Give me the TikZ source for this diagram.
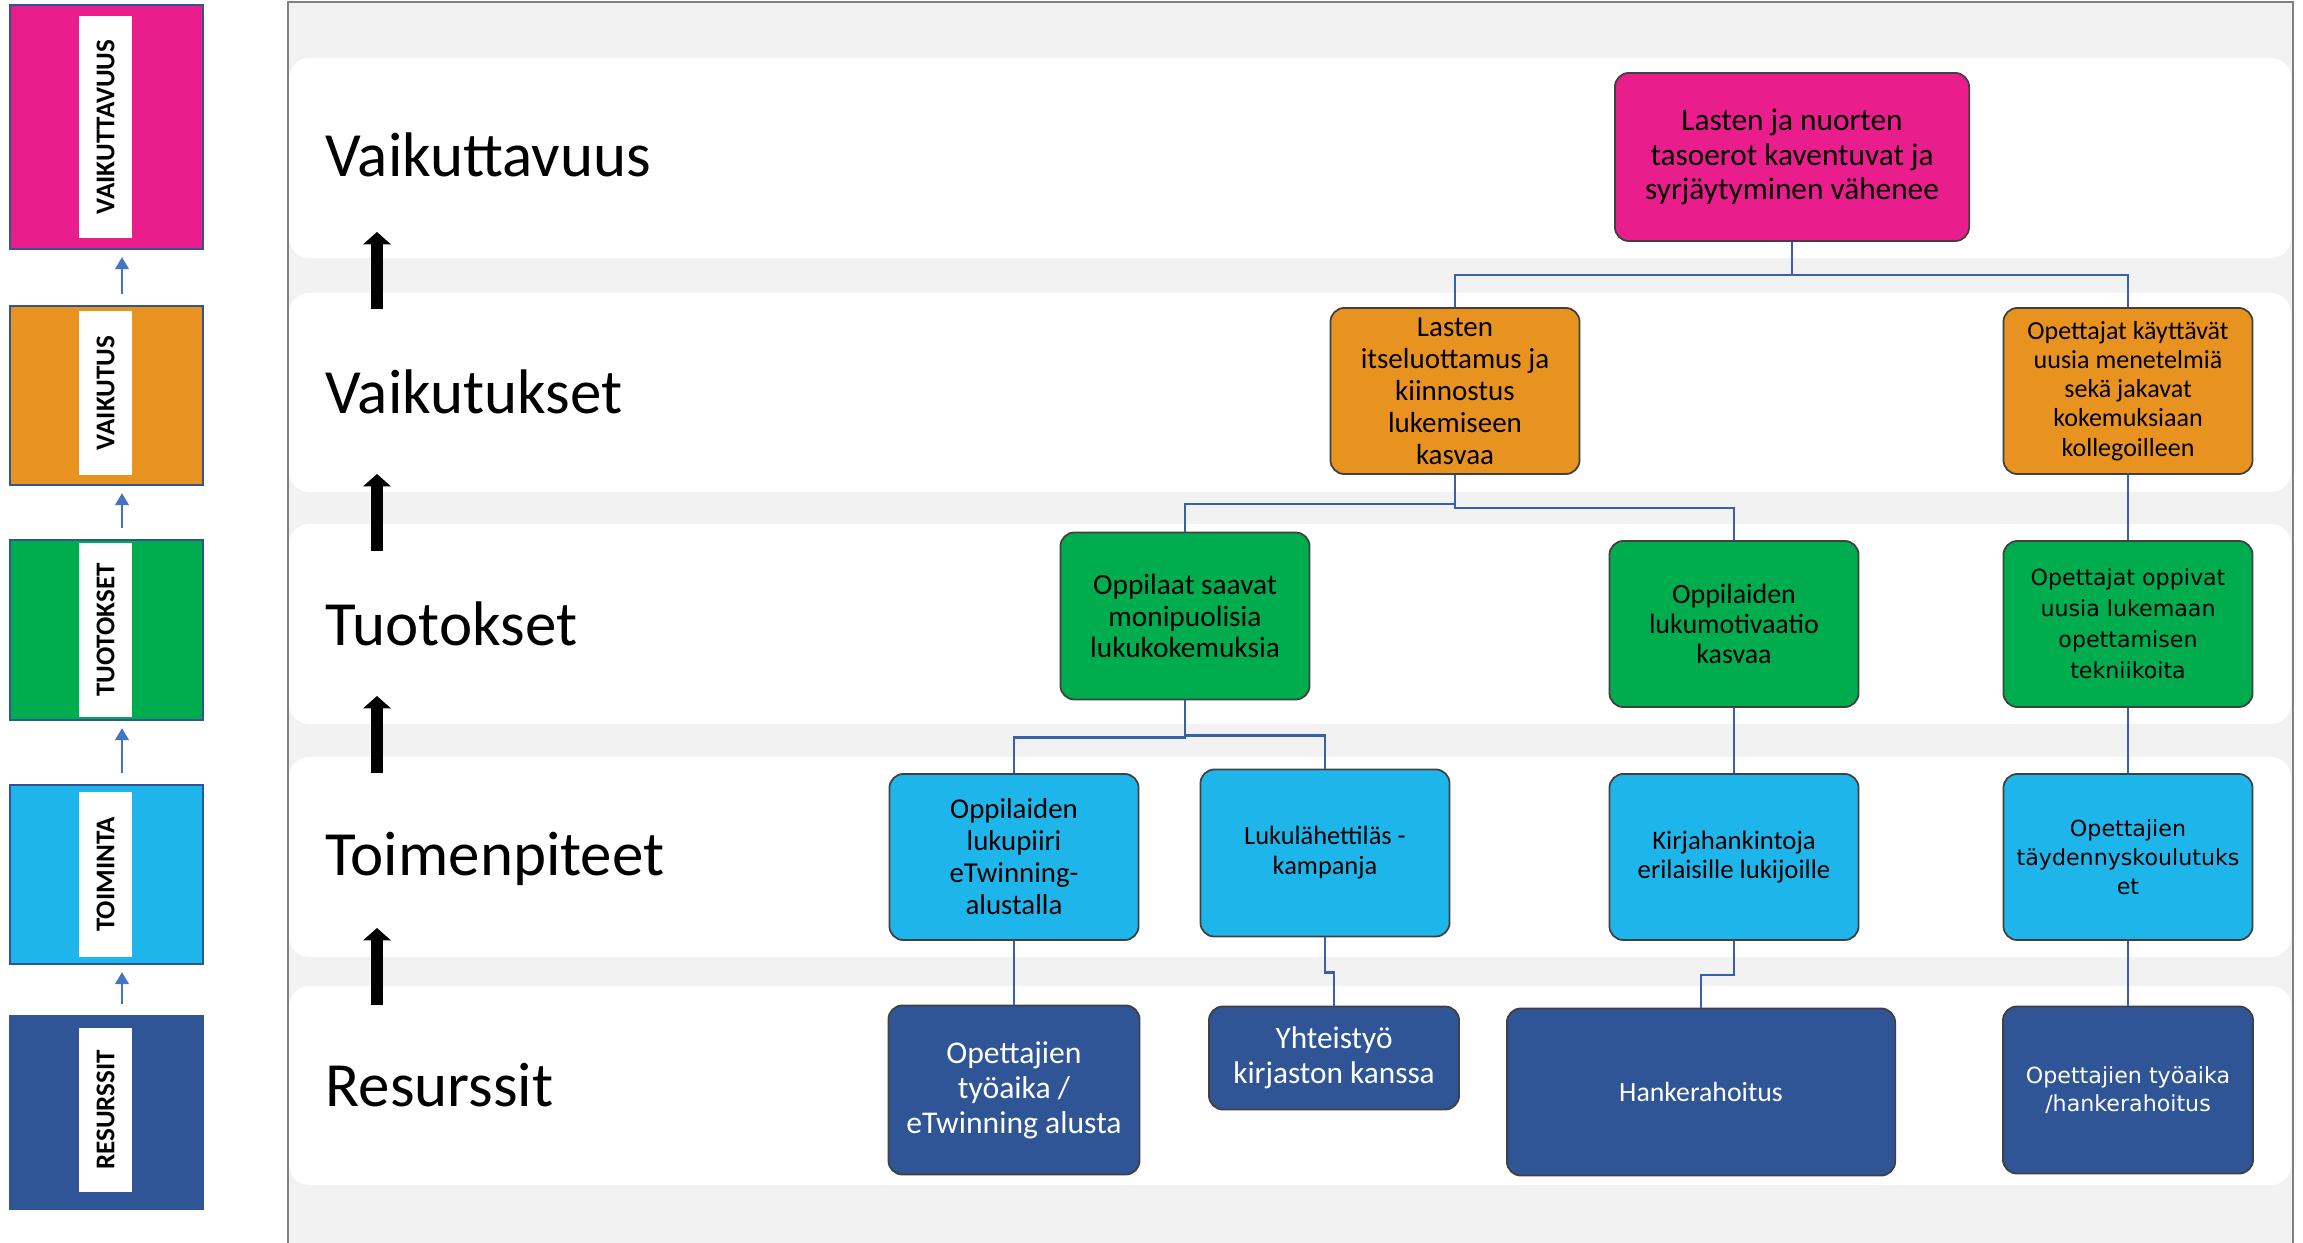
\documentclass[tikz,border=0pt]{standalone}
\usepackage{fontspec}
\setmainfont{Carlito}
\newfontfamily\widefont{DejaVu Sans}
\usetikzlibrary{positioning, calc, arrows.meta}

\definecolor{colImpact}{RGB}{233,30,140}
\definecolor{colEffect}{RGB}{232,146,32}
\definecolor{colOutput}{RGB}{0,173,78}
\definecolor{colAction}{RGB}{30,182,234}
\definecolor{colResource}{RGB}{47,85,151}
\definecolor{colPanel}{RGB}{242,242,242}
\definecolor{linkblue}{RGB}{55,96,176}
\definecolor{sideblue}{RGB}{68,114,196}

\newcommand{\fsz}[2]{\fontsize{#1}{#2}\selectfont}

\begin{document}
\begin{tikzpicture}[x=0.01cm, y=-0.01cm]
\tikzset{box/.style={
    rectangle, rounded corners=0.14cm, draw=black!75, line width=0.5pt,
    minimum width=2.49cm, minimum height=1.66cm, align=center, inner sep=2pt},
    band/.style={fill=white, rounded corners=0.2cm},
    rowlabel/.style={anchor=base west, inner sep=0pt, font=\fsz{17.9}{20}},
    side/.style={rectangle, draw=colResource, line width=0.6pt, minimum width=1.93cm},
    tag/.style={rectangle, fill=white, minimum height=0.53cm, inner sep=0pt, rotate=90,
    font=\bfseries\fsz{7.7}{8}},
    link/.style={draw=linkblue, line width=0.75pt},
    uparrow/.style={line width=3.5pt, -{Triangle[width=7.7pt,length=3.5pt]}},
    sidearrow/.style={draw=sideblue, line width=0.7pt, shorten <=0.11cm, shorten >=0.07cm,
    -{Triangle[width=3.8pt,length=3.4pt]}}
}

    \useasboundingbox (0,0) rectangle (2303,1243);
    \clip (0,0) rectangle (2303,1243);

    % paneeli ja kaistat
    \fill[colPanel] (288,2) rectangle (2293,1260);
    \draw[black!50, line width=0.8pt] (288,1260) -- (288,2) -- (2293,2) -- (2293,1260);
    \foreach \top/\bot in {58/258, 293/492, 524/724, 757/957, 986/1185}
        \fill[band] (289,\top) rectangle (2291,\bot);

    % sivupalkki
    \node[side, fill=colImpact, minimum height=2.44cm] (sImp) at (106.5,127) {};
    \node[side, fill=colEffect, minimum height=1.79cm] (sEff) at (106.5,395.5) {};
    \node[side, fill=colOutput, minimum height=1.80cm] (sOut) at (106.5,630) {};
    \node[side, fill=colAction, minimum height=1.79cm] (sAct) at (106.5,874.5) {};
    \node[side, fill=colResource, minimum height=1.93cm] (sRes) at (106.5,1112.5) {};

    \node[tag, minimum width=2.22cm] (tImp) at (105.5,127) {VAIKUTTAVUUS};
    \node[tag, minimum width=1.64cm] (tEff) at (105.5,393) {VAIKUTUS};
    \node[tag, minimum width=1.74cm] (tOut) at (105.5,630) {TUOTOKSET};
    \node[tag, minimum width=1.65cm] (tAct) at (105.5,874.5) {TOIMINTA};
    \node[tag, minimum width=1.64cm] (tRes) at (105.5,1110) {RESURSSIT};

    \foreach \lo/\hi in {sEff/sImp, sOut/sEff, sAct/sOut, sRes/sAct}
        \draw[sidearrow] ($(\lo.north)+(15.5,0)$) -- ($(\hi.south)+(15.5,0)$);

    % rivien otsikot
    \node[rowlabel] (rImp) at (325,177) {Vaikuttavuus};
    \node[rowlabel] (rEff) at (325,413) {Vaikutukset};
    \node[rowlabel] (rOut) at (325,645) {Tuotokset};
    \node[rowlabel] (rAct) at (325,875) {Toimenpiteet};
    \node[rowlabel] (rRes) at (325,1106) {Resurssit};

    \foreach \lo/\hi [count=\i] in {309/232, 551/474, 773/696, 1005/928}{
        \coordinate (up\i a) at (377,\lo);
        \coordinate (up\i b) at (377,\hi);
        \draw[uparrow] (up\i a) -- (up\i b);
    }

    % vaikuttavuus
    \node[box, fill=colImpact, minimum width=3.54cm, minimum height=1.68cm, font=\fsz{8.9}{9.9}]
        (tasoerot) at (1792,157) {Lasten ja nuorten\\tasoerot kaventuvat ja\\syrjäytyminen vähenee};

    % vaikutukset
    \node[box, fill=colEffect, font=\fsz{8.25}{9.1}] (itseluottamus) at (1455,391)
        {Lasten\\itseluottamus ja\\kiinnostus\\lukemiseen\\kasvaa};
    \node[box, fill=colEffect, font=\fsz{7.4}{8.3}] (menetelmat) at (2128,391)
        {Opettajat käyttävät\\uusia menetelmiä\\sekä jakavat\\kokemuksiaan\\kollegoilleen};

    % tuotokset
    \node[box, fill=colOutput, minimum height=1.67cm, font=\fsz{8.35}{9.0}] (lukukokemus) at (1185,616)
        {Oppilaat saavat\\monipuolisia\\lukukokemuksia};
    \node[box, fill=colOutput, font=\fsz{7.95}{8.5}] (motivaatio) at (1734,624)
        {Oppilaiden\\lukumotivaatio\\kasvaa};
    \node[box, fill=colOutput, font=\widefont\fsz{6.3}{8.8}] (tekniikat) at (2128,624)
        {Opettajat oppivat\\uusia lukemaan\\opettamisen\\tekniikoita};

    % toimenpiteet
    \node[box, fill=colAction, font=\fsz{8.2}{9.1}] (lukupiiri) at (1014,857)
        {Oppilaiden\\lukupiiri\\eTwinning-\\alustalla};
    \node[box, fill=colAction, minimum height=1.67cm, font=\fsz{7.5}{8.5}] (kampanja) at (1325,853)
        {Lukulähettiläs -\\kampanja};
    \node[box, fill=colAction, font=\fsz{7.6}{8.5}] (kirjat) at (1734,857)
        {Kirjahankintoja\\erilaisille lukijoille};
    \node[box, fill=colAction, font=\widefont\fsz{6.3}{8.2}] (koulutus) at (2128,857)
        {Opettajien\\täydennyskoulutuks\\et};

    % resurssit
    \node[box, fill=colResource, text=white, minimum width=2.51cm, minimum height=1.69cm,
        font=\fsz{9.0}{10}] (tyoaika) at (1014,1090) {Opettajien\\työaika /\\eTwinning alusta};
    \node[box, fill=colResource, text=white, minimum width=2.50cm, minimum height=1.03cm,
        font=\fsz{8.9}{10}] (kirjasto) at (1334,1058) {Yhteistyö\\kirjaston kanssa};
    \node[box, fill=colResource, text=white, minimum width=3.88cm, minimum height=1.67cm,
        font=\fsz{7.9}{9}] (hanke) at (1701,1092) {Hankerahoitus};
    \node[box, fill=colResource, text=white, minimum width=2.50cm, minimum height=1.67cm,
        font=\widefont\fsz{6.3}{8.1}] (tyohanke) at (2128,1090) {Opettajien työaika\\/hankerahoitus};

    % yhteydet
    \draw[link] (tasoerot.south) -- ++(0,33) -| (itseluottamus.north);
    \draw[link] (tasoerot.south) -- ++(0,33) -| (menetelmat.north);
    \draw[link] (itseluottamus.south) -- ++(0,29) -| (lukukokemus.north);
    \draw[link] (itseluottamus.south) -- ++(0,33) -| (motivaatio.north);
    \draw[link] (menetelmat.south) -- (tekniikat.north);
    \draw[link] (lukukokemus.south) -- ++(0,37) -| (lukupiiri.north);
    \draw[link] (lukukokemus.south) -- ++(0,35) -| (kampanja.north);
    \draw[link] (motivaatio.south) -- (kirjat.north);
    \draw[link] (tekniikat.south) -- (koulutus.north);
    \draw[link] (lukupiiri.south) -- (tyoaika.north);
    \draw[link] (kampanja.south) -- ++(0,35) -| (kirjasto.north);
    \draw[link] (kirjat.south) -- ++(0,34) -| (hanke.north);
    \draw[link] (koulutus.south) -- (tyohanke.north);

\end{tikzpicture}
\end{document}
